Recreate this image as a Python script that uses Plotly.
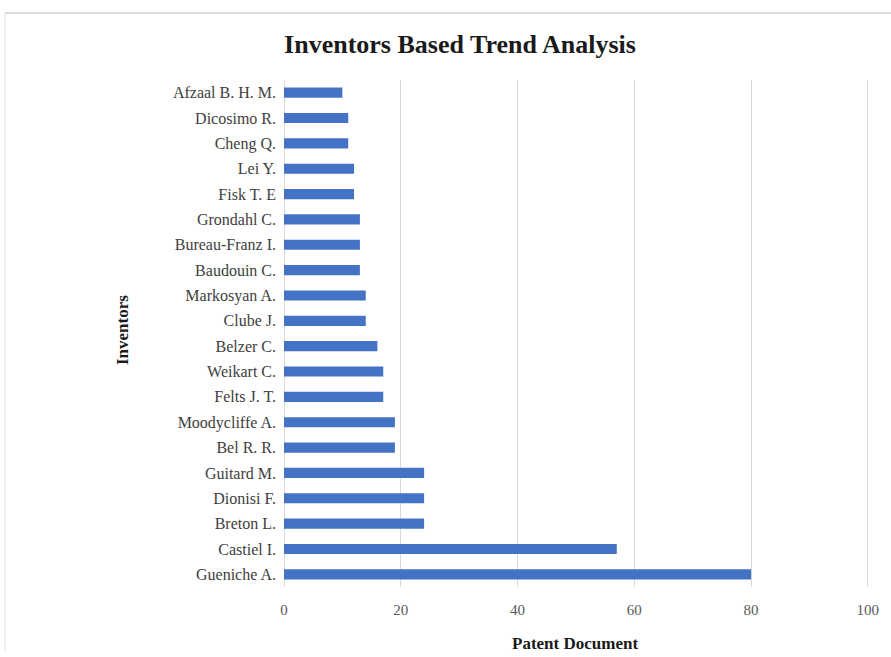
import plotly.graph_objects as go

inventors = ["Afzaal B. H. M.", "Dicosimo R.", "Cheng Q.", "Lei Y.", "Fisk T. E",
             "Grondahl C.", "Bureau-Franz I.", "Baudouin C.", "Markosyan A.", "Clube J.",
             "Belzer C.", "Weikart C.", "Felts J. T.", "Moodycliffe A.", "Bel R. R.",
             "Guitard M.", "Dionisi F.", "Breton L.", "Castiel I.", "Gueniche A."]
patents = [10, 11, 11, 12, 12, 13, 13, 13, 14, 14, 16, 17, 17, 19, 19, 24, 24, 24, 57, 80]
x_ticks = [0, 20, 40, 60, 80, 100]

W, H = 891, 657
L, R, T, B = 284, 22, 80, 70

fig = go.Figure(go.Bar(
    y=inventors, x=patents, orientation="h",
    marker=dict(color="#4472C4", line=dict(width=0)),
))

serif = "Liberation Serif, Times New Roman, serif"
fig.update_layout(
    width=W, height=H,
    margin=dict(l=L, r=R, t=T, b=B),
    paper_bgcolor="white", plot_bgcolor="white",
    bargap=0.6,
    showlegend=False,
    title=dict(text="<b>Inventors Based Trend Analysis</b>", x=460 / W, xanchor="center",
               y=1 - 44 / H, yanchor="middle",
               font=dict(family=serif, size=26, color="#1a1a1a")),
    font=dict(family=serif),
)
fig.update_xaxes(range=[0, 100.2], tickvals=x_ticks, showgrid=True, gridcolor="#d9d9d9",
                 gridwidth=1, zeroline=True, zerolinecolor="#d9d9d9", zerolinewidth=1,
                 showline=False,
                 tickfont=dict(family=serif, size=15, color="#595959"), ticks="",
                 ticklabelstandoff=12)
fig.update_yaxes(categoryorder="array", categoryarray=list(reversed(inventors)),
                 showgrid=False, showline=False, ticks="",
                 tickfont=dict(family=serif, size=16, color="#404040"),
                 ticklabelstandoff=7)

fig.add_annotation(text="<b>Patent Document</b>", xref="paper", yref="paper",
                   x=(575 - L) / (W - L - R), y=-(643 - (H - B)) / (H - T - B),
                   xanchor="center", yanchor="middle", showarrow=False,
                   font=dict(family=serif, size=17, color="#1a1a1a"))
fig.add_annotation(text="<b>Inventors</b>", xref="paper", yref="paper",
                   x=-(L - 122) / (W - L - R), y=1 - (330 - T) / (H - T - B),
                   xanchor="center", yanchor="middle", showarrow=False, textangle=-90,
                   font=dict(family=serif, size=17, color="#1a1a1a"))

# outer chart frame (top and left edges visible)
pw, ph = W - L - R, H - T - B
fig.add_shape(type="line", xref="paper", yref="paper",
              x0=-(L - 5) / pw, x1=(W - L) / pw, y0=1 + (T - 13) / ph, y1=1 + (T - 13) / ph,
              line=dict(color="#d0d0d0", width=1.5))
fig.add_shape(type="line", xref="paper", yref="paper",
              x0=-(L - 5) / pw, x1=-(L - 5) / pw, y0=1 + (T - 13) / ph, y1=-(B - 5) / ph,
              line=dict(color="#e0e0e0", width=1))

fig.write_html("out.html")
